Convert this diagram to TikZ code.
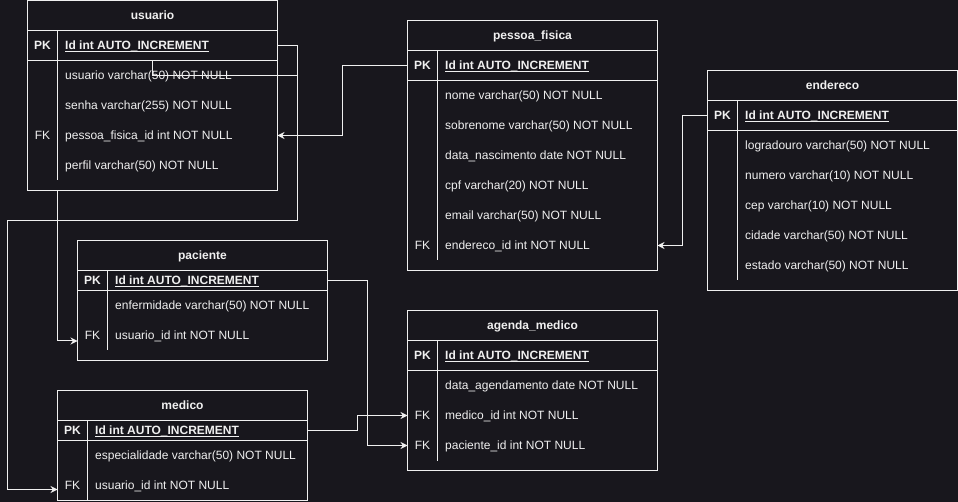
\documentclass[tikz,border=0pt]{standalone}
\usepackage{fontspec}
\setmainfont{Liberation Sans}
\usetikzlibrary{arrows.meta}
\definecolor{bg}{RGB}{24,23,29}
\definecolor{fg}{RGB}{240,240,240}
\newcommand\tablebox[6]{%
  \node[tbox,minimum width={#4-#2},minimum height={#5-#3}] (#1) at ({(#2+#4)/2},{(#3+#5)/2}) {};
  \draw[tl] ({#2},{#3+30}) -- ({#4},{#3+30});
  \node[ttl] at ({(#2+#4)/2},{#3+15+4.3}) {#6};
}
\newcommand\pkrow[7]{%
  \draw[tl] ({#2},{#5}) -- ({#3},{#5});
  \node[rowbox,minimum width={#3-#2},minimum height={#5-#4}] (#1) at ({(#2+#3)/2},{(#4+#5)/2}) {};
  \node[keyb] at ({(#2+#6)/2},{(#4+#5)/2+4.3}) {PK};
  \node[rtb] (#1-t) at ({#6+7.5},{(#4+#5)/2+4.3}) {#7};
  \draw[tl] ([yshift=-2pt]#1-t.base west) -- ([yshift=-2pt]#1-t.base east);
}
\newcommand\fieldrow[7]{%
  \node[rowbox,minimum width={#3-#2},minimum height=30] (#1) at ({(#2+#3)/2},{#4}) {};
  \node[key] at ({(#2+#5)/2},{#4+4.3}) {#6};
  \node[rt] at ({#5+7.5},{#4+4.3}) {#7};
}
\begin{document}
\begin{tikzpicture}[x=1pt,y=-1pt,
 tl/.style={draw=fg,line width=1pt},
 tbox/.style={draw=fg,line width=1pt,inner sep=0,outer sep=0},
 rowbox/.style={inner sep=0,outer sep=0},
 rt/.style={text=fg,inner sep=0,anchor=base west,font=\fontsize{12}{14}\selectfont},
 rtb/.style={text=fg,inner sep=0,anchor=base west,font=\fontsize{12}{14}\selectfont\bfseries},
 ttl/.style={text=fg,inner sep=0,anchor=base,font=\fontsize{12}{14}\selectfont\bfseries},
 key/.style={text=fg,inner sep=0,anchor=base,font=\fontsize{12}{14}\selectfont},
 keyb/.style={text=fg,inner sep=0,anchor=base,font=\fontsize{12}{14}\selectfont\bfseries},
 conn/.style={draw=fg,line width=1pt},
 fk/.style={draw=fg,line width=1pt,-{Stealth[length=7pt,width=7pt]}}]
\fill[bg] (0,0) rectangle (958,502);
\useasboundingbox (0,0) rectangle (958,502);

% usuario
\tablebox{usuario}{27.5}{0.5}{277.5}{190.5}{usuario}
\pkrow{usuario-id}{27.5}{277.5}{30.5}{60.5}{57.5}{Id int AUTO\_INCREMENT}
\draw[tl] (57.5,30.5) -- (57.5,180.5);
\fieldrow{usuario-user}{27.5}{277.5}{75.5}{57.5}{}{usuario varchar(50) NOT NULL}
\fieldrow{usuario-senha}{27.5}{277.5}{105.5}{57.5}{}{senha varchar(255) NOT NULL}
\fieldrow{usuario-pfid}{27.5}{277.5}{135.5}{57.5}{FK}{pessoa\_fisica\_id int NOT NULL}
\fieldrow{usuario-perfil}{27.5}{277.5}{165.5}{57.5}{}{perfil varchar(50) NOT NULL}

% pessoa_fisica
\tablebox{pf}{407.5}{20.5}{657.5}{270.5}{pessoa\_fisica}
\pkrow{pf-id}{407.5}{657.5}{50.5}{80.5}{437.5}{Id int AUTO\_INCREMENT}
\draw[tl] (437.5,50.5) -- (437.5,260.5);
\fieldrow{pf-nome}{407.5}{657.5}{95.5}{437.5}{}{nome varchar(50) NOT NULL}
\fieldrow{pf-sobre}{407.5}{657.5}{125.5}{437.5}{}{sobrenome varchar(50) NOT NULL}
\fieldrow{pf-data}{407.5}{657.5}{155.5}{437.5}{}{data\_nascimento date NOT NULL}
\fieldrow{pf-cpf}{407.5}{657.5}{185.5}{437.5}{}{cpf varchar(20) NOT NULL}
\fieldrow{pf-email}{407.5}{657.5}{215.5}{437.5}{}{email varchar(50) NOT NULL}
\fieldrow{pf-eid}{407.5}{657.5}{245.5}{437.5}{FK}{endereco\_id int NOT NULL}

% endereco
\tablebox{end}{707.5}{70.5}{957.5}{290.5}{endereco}
\pkrow{end-id}{707.5}{957.5}{100.5}{130.5}{737.5}{Id int AUTO\_INCREMENT}
\draw[tl] (737.5,100.5) -- (737.5,280.5);
\fieldrow{end-log}{707.5}{957.5}{145.5}{737.5}{}{logradouro varchar(50) NOT NULL}
\fieldrow{end-num}{707.5}{957.5}{175.5}{737.5}{}{numero varchar(10) NOT NULL}
\fieldrow{end-cep}{707.5}{957.5}{205.5}{737.5}{}{cep varchar(10) NOT NULL}
\fieldrow{end-cid}{707.5}{957.5}{235.5}{737.5}{}{cidade varchar(50) NOT NULL}
\fieldrow{end-est}{707.5}{957.5}{265.5}{737.5}{}{estado varchar(50) NOT NULL}

% paciente
\tablebox{pac}{77.5}{240.5}{327.5}{360.5}{paciente}
\pkrow{pac-id}{77.5}{327.5}{270.5}{290.5}{107.5}{Id int AUTO\_INCREMENT}
\draw[tl] (107.5,270.5) -- (107.5,350.5);
\fieldrow{pac-enf}{77.5}{327.5}{305.5}{107.5}{}{enfermidade varchar(50) NOT NULL}
\fieldrow{pac-uid}{77.5}{327.5}{335.5}{107.5}{FK}{usuario\_id int NOT NULL}

% medico
\tablebox{med}{57.5}{390.5}{307.5}{500.5}{medico}
\pkrow{med-id}{57.5}{307.5}{420.5}{440.5}{87.5}{Id int AUTO\_INCREMENT}
\draw[tl] (87.5,420.5) -- (87.5,500.5);
\fieldrow{med-esp}{57.5}{307.5}{455.5}{87.5}{}{especialidade varchar(50) NOT NULL}
\fieldrow{med-uid}{57.5}{307.5}{485.5}{87.5}{FK}{usuario\_id int NOT NULL}

% agenda_medico
\tablebox{ag}{407.5}{310.5}{657.5}{470.5}{agenda\_medico}
\pkrow{ag-id}{407.5}{657.5}{340.5}{370.5}{437.5}{Id int AUTO\_INCREMENT}
\draw[tl] (437.5,340.5) -- (437.5,460.5);
\fieldrow{ag-data}{407.5}{657.5}{385.5}{437.5}{}{data\_agendamento date NOT NULL}
\fieldrow{ag-mid}{407.5}{657.5}{415.5}{437.5}{FK}{medico\_id int NOT NULL}
\fieldrow{ag-pid}{407.5}{657.5}{445.5}{437.5}{FK}{paciente\_id int NOT NULL}

% connectors
\coordinate (ua) at (297.5,220.5);
\coordinate (ub) at (7.5,220.5);
\coordinate (ujoin) at (297.5,75.5);
\coordinate (uc) at (57.5,190.5);
\draw[fk] (usuario-id.east) -| (ua) -- (ub) |- ([yshift=-4pt]med-uid.west);
\draw[conn] (usuario-id.south) |- (ujoin);
\draw[fk] (uc) |- ([yshift=-5.5pt]pac-uid.west);
\draw[fk] (pf-id.west) -- ++(-65,0) |- (usuario-pfid.east);
\draw[fk] (end-id.west) -- ++(-25,0) |- (pf-eid.east);
\draw[fk] (pac-id.east) -- ++(40,0) |- (ag-pid.west);
\draw[fk] (med-id.east) -- ++(50,0) |- (ag-mid.west);
\end{tikzpicture}
\end{document}
